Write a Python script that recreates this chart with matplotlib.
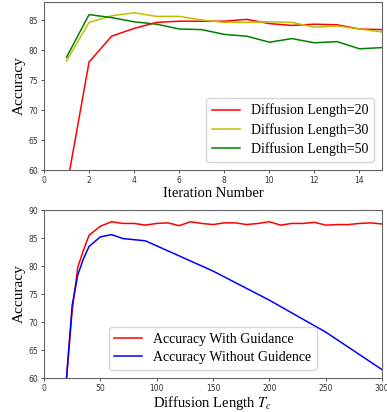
import matplotlib
matplotlib.use('Agg')
import matplotlib.pyplot as plt

# top panel: accuracy vs iteration number
iterations = list(range(1, 16))
acc_len20 = [57.0, 78.0, 82.3, 83.6, 84.6, 84.8, 84.8, 84.8, 85.1, 84.4, 84.1, 84.3, 84.2, 83.5, 83.4]
acc_len30 = [78.2, 84.6, 85.7, 86.2, 85.6, 85.6, 85.0, 84.6, 84.6, 84.7, 84.6, 83.8, 84.0, 83.5, 83.0]
acc_len50 = [78.8, 85.9, 85.4, 84.7, 84.3, 83.5, 83.4, 82.6, 82.3, 81.3, 81.9, 81.2, 81.4, 80.2, 80.4]

# bottom panel: accuracy vs diffusion length
len_guided = [20, 25, 30, 35, 40, 45, 50, 60, 70, 80, 90, 100, 110, 120, 130, 140, 150, 160,
              170, 180, 190, 200, 210, 220, 230, 240, 250, 260, 270, 280, 290, 300]
acc_guided = [60.0, 72.0, 79.8, 82.8, 85.5, 86.3, 87.1, 87.9, 87.6, 87.6, 87.3, 87.6, 87.7, 87.2,
              87.9, 87.6, 87.4, 87.7, 87.7, 87.4, 87.6, 87.9, 87.3, 87.6, 87.6, 87.8, 87.3, 87.4,
              87.4, 87.6, 87.7, 87.5]
len_plain = [20, 25, 30, 35, 40, 50, 60, 70, 80, 90, 150, 200, 250, 300]
acc_plain = [60.0, 73.0, 78.4, 81.3, 83.5, 85.2, 85.6, 84.9, 84.7, 84.5, 79.1, 73.9, 68.2, 61.5]

plt.rcParams['mathtext.fontset'] = 'stix'
serif = ['Liberation Serif', 'DejaVu Serif']
W, H = 387, 412
fig = plt.figure(figsize=(W / 100, H / 100), dpi=100)

ax1 = fig.add_axes([44 / W, (H - 170) / H, 338 / W, 168 / H])
ax2 = fig.add_axes([44 / W, (H - 378) / H, 338 / W, 168 / H])

ax1.plot(iterations, acc_len20, color='red', lw=1.1, label='Diffusion Length=20')
ax1.plot(iterations, acc_len30, color='y', lw=1.1, label='Diffusion Length=30')
ax1.plot(iterations, acc_len50, color='g', lw=1.1, label='Diffusion Length=50')
ax1.set_xlim(0, 15)
ax1.set_ylim(60, 88)
ax1.set_xticks(range(0, 15, 2))
ax1.set_yticks(range(60, 86, 5))
ax1.set_xlabel('Iteration Number', family=serif, fontsize=10.5, labelpad=2)
ax1.set_ylabel('Accuracy', family=serif, fontsize=11, labelpad=2)
ax1.legend(loc='lower right', prop={'family': serif, 'size': 10}, handlelength=2.0,
           borderaxespad=0.6, labelspacing=0.4)

ax2.plot(len_guided, acc_guided, color='red', lw=1.1, label='Accuracy With Guidance')
ax2.plot(len_plain, acc_plain, color='b', lw=1.1, label='Accuracy Without Guidence')
ax2.set_xlim(0, 300)
ax2.set_ylim(60, 90)
ax2.set_xticks(range(0, 301, 50))
ax2.set_yticks(range(60, 91, 5))
ax2.set_xlabel('Diffusion Length $T_c$', family=serif, fontsize=10.5, labelpad=1)
ax2.set_ylabel('Accuracy', family=serif, fontsize=11, labelpad=2)
ax2.legend(loc='lower center', prop={'family': serif, 'size': 10}, handlelength=2.0,
           borderaxespad=0.6, labelspacing=0.4)

for ax in (ax1, ax2):
    ax.tick_params(labelsize=5.5, length=2.5, width=0.6, pad=1.5, colors='#333333')
    for sp in ax.spines.values():
        sp.set_color('#666666')
        sp.set_linewidth(0.8)

fig.savefig('out.png', dpi=100)
